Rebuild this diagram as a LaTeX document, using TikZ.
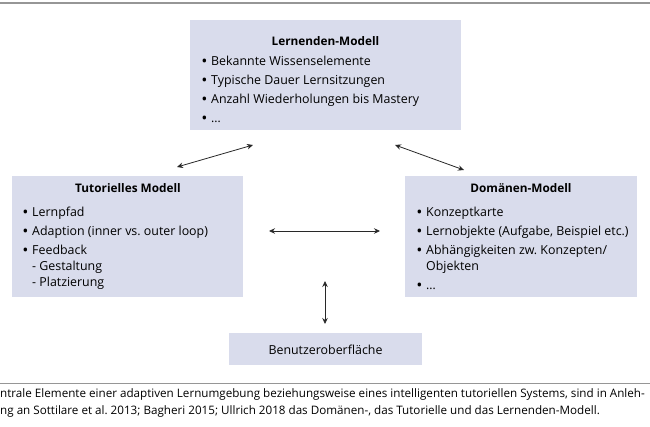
\documentclass[tikz,border=0pt]{standalone}
\usepackage{fontspec}
\setmainfont{Open Sans}
\usetikzlibrary{arrows.meta}
\definecolor{boxfill}{RGB}{217,220,236}
\definecolor{rulegray}{RGB}{150,150,150}
\definecolor{arrowgray}{RGB}{40,40,40}
\begin{document}
\begin{tikzpicture}[x=1pt,y=-1pt,
  panel/.style={fill=boxfill,draw=none,inner sep=0pt,anchor=north west},
  ttl/.style={font=\fontsize{11.8}{13}\selectfont\bfseries,anchor=base,inner sep=0pt},
  itm/.style={font=\fontsize{12.4}{14}\selectfont,anchor=base west,inner sep=0pt},
  bul/.style={font=\fontsize{12.4}{14}\selectfont\bfseries,anchor=base west,inner sep=0pt},
  captext/.style={font=\fontsize{11.65}{13}\selectfont,anchor=base west,inner sep=0pt},
  link/.style={draw=arrowgray,line width=0.8pt,{Stealth[length=6pt,width=5.5pt]}-{Stealth[length=6pt,width=5.5pt]}},
  hrule/.style={draw=rulegray,line width=1.5pt}
]
\useasboundingbox (0,0) rectangle (650,427);
% rules
\coordinate (r1a) at (0,3); \coordinate (r1b) at (650,3);
\draw[hrule] (r1a) -- (r1b);
\coordinate (r2a) at (0,383); \coordinate (r2b) at (650,383);
\draw[hrule,line width=1pt] (r2a) -- (r2b);

% boxes
\node[panel,minimum width=271pt,minimum height=110pt] (lm) at (190,20) {};
\node[panel,minimum width=231pt,minimum height=121pt] (tm) at (12,176) {};
\node[panel,minimum width=232pt,minimum height=121pt] (dm) at (405,176) {};
\node[panel,minimum width=193pt,minimum height=32pt] (ui) at (229,333) {};

% Lernenden-Modell
\node[ttl] (lmt) at (325.5,46) {Lernenden-Modell};
\node[bul] (lmb1) at (202,66) {•}; \node[itm] (lmi1) at (211,66) {Bekannte Wissenselemente};
\node[bul] (lmb2) at (202,85) {•}; \node[itm] (lmi2) at (211,85) {Typische Dauer Lernsitzungen};
\node[bul] (lmb3) at (202,104) {•}; \node[itm] (lmi3) at (211,104) {Anzahl Wiederholungen bis Mastery};
\node[bul] (lmb4) at (202,123) {•}; \node[itm] (lmi4) at (211,123) {…};

% Tutorielles Modell
\node[ttl] (tmt) at (128,193) {Tutorielles Modell};
\node[bul] (tmb1) at (23,217) {•}; \node[itm] (tmi1) at (32,217) {Lernpfad};
\node[bul] (tmb2) at (23,236) {•}; \node[itm] (tmi2) at (32,236) {Adaption (inner vs.\ outer loop)};
\node[bul] (tmb3) at (23,255) {•}; \node[itm] (tmi3) at (32,255) {Feedback};
\node[itm] (tmi4) at (32,271) {- Gestaltung};
\node[itm] (tmi5) at (32,287) {- Platzierung};

% Domaenen-Modell
\node[ttl] (dmt) at (521,193) {Domänen-Modell};
\node[bul] (dmb1) at (417,217) {•}; \node[itm] (dmi1) at (426,217) {Konzeptkarte};
\node[bul] (dmb2) at (417,236) {•}; \node[itm] (dmi2) at (426,236) {Lernobjekte (Aufgabe, Beispiel etc.)};
\node[bul] (dmb3) at (417,255) {•}; \node[itm] (dmi3) at (426,255) {Abhängigkeiten zw.\ Konzepten/};
\node[itm] (dmi4) at (426,271) {Objekten};
\node[bul] (dmb4) at (417,290) {•}; \node[itm] (dmi5) at (426,290) {…};

% Benutzeroberflaeche
\node[font=\fontsize{12.4}{14}\selectfont,inner sep=0pt] (uit) at (325.5,349.5) {Benutzeroberfläche};

% arrows
\coordinate (a1s) at (177,167); \coordinate (a1e) at (253,145);
\coordinate (a2s) at (395,145); \coordinate (a2e) at (464,170);
\coordinate (a3s) at (269,231); \coordinate (a3e) at (380,231);
\coordinate (a4s) at (325,281); \coordinate (a4e) at (325,324);
\draw[link] (a1s) -- (a1e);
\draw[link] (a2s) -- (a2e);
\draw[link] (a3s) -- (a3e);
\draw[link] (a4s) -- (a4e);

% caption
\node[captext] (c1) at (0,397) {ntrale Elemente einer adaptiven Lernumgebung beziehungsweise eines intelligenten tutoriellen Systems, sind in Anleh-};
\node[captext] (c2) at (0,414) {ng an Sottilare et al.\ 2013; Bagheri 2015; Ullrich 2018 das Domänen-, das Tutorielle und das Lernenden-Modell.};
\end{tikzpicture}
\end{document}
